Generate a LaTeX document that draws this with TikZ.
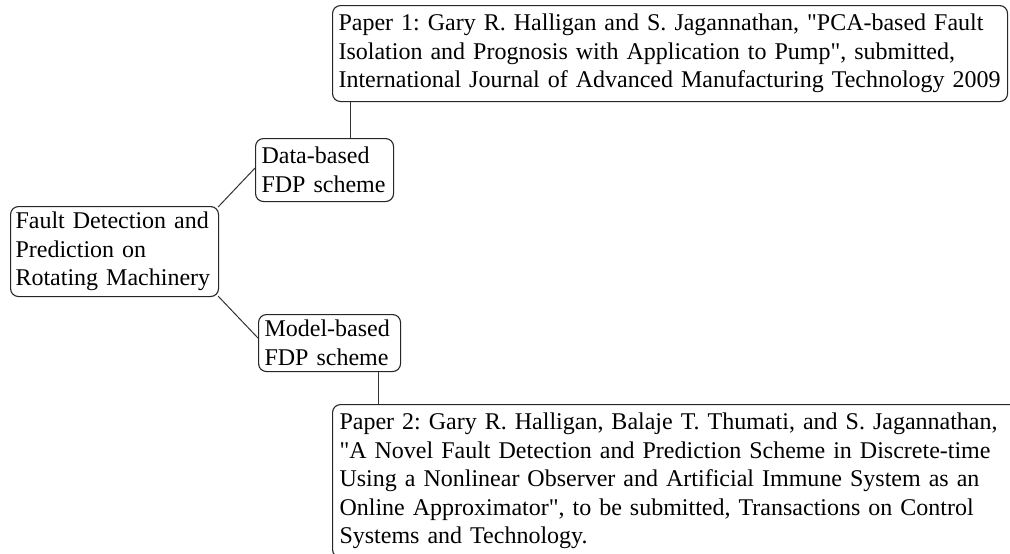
\documentclass[tikz,border=0pt]{standalone}
\usepackage{fontspec}
\setmainfont{Liberation Serif}
\frenchspacing
\begin{document}
\begin{tikzpicture}[x=1pt,y=-1pt,
  box/.style={draw=black!85, line width=1.1pt, rounded corners=8pt, anchor=north west,
    align=left, inner ysep=0pt, font=\fontsize{24}{28.6}\selectfont},
  link/.style={draw=black!80, line width=1pt}]
\useasboundingbox (0,0) rectangle (1010,554);
\node[box, text width=663pt, inner xsep=6pt, minimum height=96pt] (p1) at (332,5)
  {Paper 1: Gary R. Halligan and S. Jagannathan, \textquotedbl PCA-based Fault\\
   Isolation and Prognosis with Application to Pump\textquotedbl, submitted,\\
   \mbox{International Journal of Advanced Manufacturing Technology 2009}};
\node[box, text width=126pt, inner xsep=6pt, minimum height=63pt] (data) at (255,138)
  {Data-based\\FDP scheme};
\node[box, text width=198pt, inner xsep=5pt, minimum height=90pt] (fault) at (10,206)
  {Fault Detection and\\Prediction on\\Rotating Machinery};
\node[box, text width=130pt, inner xsep=6pt, minimum height=57pt] (model) at (258,314)
  {Model-based\\FDP scheme};
\node[box, text width=690pt, inner xsep=7pt, minimum height=153pt] (p2) at (332,404)
  {Paper 2: Gary R. Halligan, Balaje T. Thumati, and S. Jagannathan,\\
   \textquotedbl A Novel Fault Detection and Prediction Scheme in Discrete-time\\
   Using a Nonlinear Observer and Artificial Immune System as an\\
   Online Approximator\textquotedbl, to be submitted, Transactions on Control\\
   Systems and Technology.};
\draw[link] ([xshift=95pt]data.north west) -- ([xshift=95pt]data.north west |- p1.south);
\draw[link] ([shift={(-1pt,-1pt)}]fault.north east) -- ([yshift=2pt]data.west);
\draw[link] ([shift={(-1pt,1pt)}]fault.south east) -- ([yshift=5pt]model.west);
\draw[link] ([xshift=120pt]model.south west) -- ([xshift=120pt]model.south west |- p2.north);
\end{tikzpicture}
\end{document}
